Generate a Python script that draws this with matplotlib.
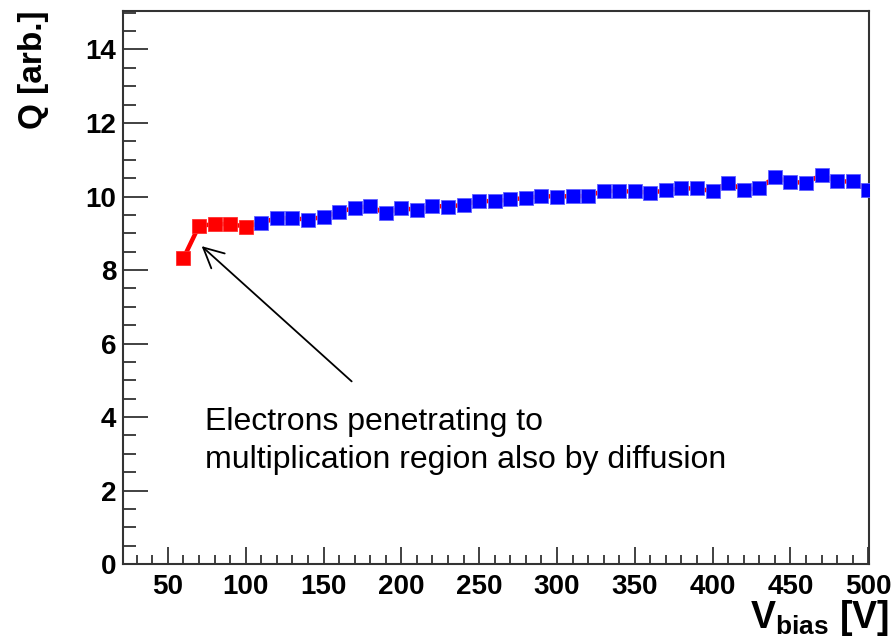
import numpy as np
import matplotlib
matplotlib.use("Agg")
import matplotlib.pyplot as plt
from matplotlib.ticker import MultipleLocator

plt.rcParams['font.family'] = ['Liberation Sans', 'DejaVu Sans']
plt.rcParams['mathtext.fontset'] = 'custom'
plt.rcParams['mathtext.rm'] = 'Liberation Sans:bold'
plt.rcParams['mathtext.bf'] = 'Liberation Sans:bold'

# bias voltage [V] and collected charge [arb.]
v_low = [60, 70, 80, 90, 100]
q_low = [8.32, 9.20, 9.25, 9.25, 9.18]

v_high = [110, 120, 130, 140, 150, 160, 170, 180, 190, 200,
          210, 220, 230, 240, 250, 260, 270, 280, 290, 300,
          310, 320, 330, 340, 350, 360, 370, 380, 390, 400,
          410, 420, 430, 440, 450, 460, 470, 480, 490, 500]
q_high = [9.28, 9.42, 9.41, 9.37, 9.45, 9.57, 9.70, 9.73, 9.54, 9.70,
          9.62, 9.75, 9.72, 9.78, 9.88, 9.87, 9.92, 9.96, 10.01, 10.00,
          10.01, 10.01, 10.16, 10.14, 10.14, 10.10, 10.17, 10.22, 10.22, 10.14,
          10.37, 10.18, 10.23, 10.52, 10.40, 10.37, 10.59, 10.41, 10.41, 10.17]

note_lines = ["Electrons penetrating to",
              "multiplication region also by diffusion"]

fig = plt.figure(figsize=(8.94, 6.41), dpi=100)
ax = fig.add_axes([0.138, 0.120, 0.834, 0.863])

# red line through every point, red markers at low bias, blue above
ax.plot(v_low + v_high, q_low + q_high, color='red', lw=3.2, zorder=2)
ax.plot(v_low, q_low, 's', color='red', ms=9.5, mec='#ff3030', mew=0.6, zorder=3)
ax.plot(v_high, q_high, 's', color='blue', ms=9.5, mec='#6060ff', mew=0.6, zorder=3)

ax.set_xlim(21.4, 500.5)
ax.set_ylim(0, 15.05)

ax.xaxis.set_major_locator(MultipleLocator(50))
ax.xaxis.set_minor_locator(MultipleLocator(10))
ax.yaxis.set_major_locator(MultipleLocator(2))
ax.yaxis.set_minor_locator(MultipleLocator(0.5))

frame_col = '#333333'
for s in ax.spines.values():
    s.set_color(frame_col)
    s.set_linewidth(1.5)

ax.tick_params(axis='both', which='both', direction='in', color=frame_col,
               width=1.3, top=False, right=False)
ax.tick_params(axis='x', which='major', length=12, pad=7, labelsize=20)
ax.tick_params(axis='x', which='minor', length=6.5)
ax.tick_params(axis='y', which='major', length=18, pad=5, labelsize=20)
ax.tick_params(axis='y', which='minor', length=9.5)
for lab in ax.get_xticklabels() + ax.get_yticklabels():
    lab.set_fontweight('bold')

ax.set_ylabel('Q [arb.]', fontsize=24, fontweight='bold')
ax.yaxis.set_label_coords(-0.100, 1.0)
ax.yaxis.label.set_ha('right')

ax.set_xlabel(r'$\mathbf{V}_{\mathbf{bias}}$ [V]', fontsize=27, fontweight='bold')
ax.xaxis.set_label_coords(1.027, -0.062)
ax.xaxis.label.set_ha('right')
ax.xaxis.label.set_va('top')

# annotation
ax.annotate('', xy=(71.7, 8.65), xytext=(168.1, 4.97),
            arrowprops=dict(arrowstyle='->', color='black', lw=1.3,
                            mutation_scale=36, shrinkA=0, shrinkB=0))
ax.text(74, 3.65, note_lines[0], fontsize=23, va='baseline', ha='left')
ax.text(74, 2.62, note_lines[1], fontsize=23, va='baseline', ha='left')

fig.savefig('out.png', dpi=100)
